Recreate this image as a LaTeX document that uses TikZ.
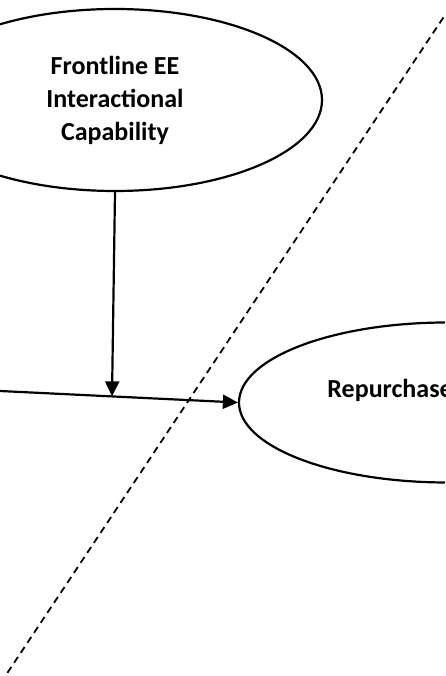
\documentclass[tikz,border=0pt]{standalone}
\usepackage{fontspec}
\setmainfont{Carlito}
\usetikzlibrary{shapes.geometric,arrows.meta,positioning}
\begin{document}
\begin{tikzpicture}
[x=1pt,y=1pt,
  ellipsedecorate/.style={shape=ellipse,draw,line width=2.2pt,inner sep=0pt},%
  textdecorate/.style={font=\bfseries\fontsize{26}{33}\selectfont,align=center},%
  arrowdecorate/.style={-{Triangle[length=15pt,width=14pt]},line width=2.2pt},%
  dashdecorate/.style={line width=1.8pt,dash pattern=on 7pt off 5pt}]
\path[use as bounding box,clip] (0,0) rectangle (445,676);
%% constructs
\node (fec) at (115,576) [ellipsedecorate,minimum width=414pt,minimum height=182pt,
  textdecorate] {Frontline EE\\Interactional\\Capability};
\node (rep) at (447,273.5) [ellipsedecorate,minimum width=416pt,minimum height=160pt] {};
\node (reptext) [textdecorate,anchor=base west] at ([xshift=86pt,yshift=4.5pt]rep.west) {Repurchase};
%% free ends
\coordinate (src) at (0,285);
\coordinate (jn) at (112,279.6);
\coordinate (dtop) at (450,668.5);
\coordinate (dbot) at (5,-0.5);
%% paths
\draw[arrowdecorate] (src) -- (rep.west);
\draw[arrowdecorate] (fec.south) -- (jn);
\draw[dashdecorate] (dtop) -- (dbot);
\end{tikzpicture}
\end{document}
